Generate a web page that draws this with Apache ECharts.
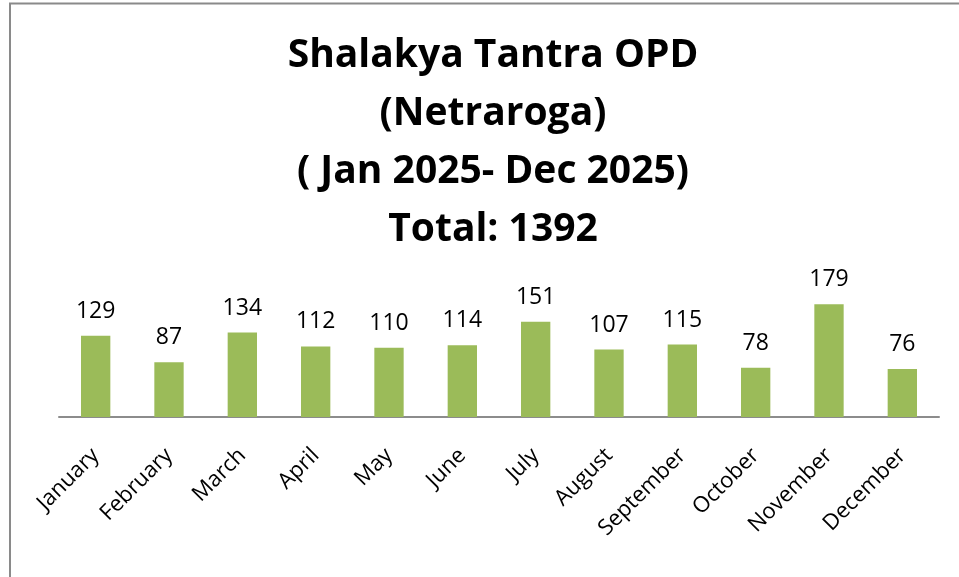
<!DOCTYPE html>
<html lang="en">
<head>
    <meta charset="UTF-8">
    <title>Shalakya Tantra OPD</title>
    <script src="https://cdn.jsdelivr.net/npm/echarts@6/dist/echarts.min.js"></script>
</head>
<body style="margin:0;">
    <div id="main" style="width:959px;height:577px;"></div>
</body>
<script>
// data
var months = ['January','February','March','April','May','June','July','August','September','October','November','December'];
var opdCounts = [129, 87, 134, 112, 110, 114, 151, 107, 115, 78, 179, 76];
var titleLines = ['Shalakya Tantra OPD', '(Netraroga)', '( Jan 2025- Dec 2025)', 'Total: 1392'];

var chart = echarts.init(document.getElementById('main'));
chart.setOption({
    backgroundColor: '#ffffff',
    animation: false,
    title: {
        text: titleLines.join('\n'),
        left: 488,
        top: 22,
        textAlign: 'center',
        textStyle: {
            fontFamily: 'Open Sans',
            fontWeight: 'bold',
            fontSize: 39,
            lineHeight: 58,
            color: '#000'
        }
    },
    // chart frame (cropped on right and bottom)
    graphic: [{
        type: 'polyline',
        shape: { points: [[10, 577], [10, 3.5], [959, 3.5]] },
        style: { stroke: '#8a8a8a', lineWidth: 2, fill: null }
    }],
    grid: {
        left: 59,
        right: 20,
        top: 291,
        bottom: 160
    },
    xAxis: {
        type: 'category',
        data: months,
        axisLine: { lineStyle: { color: '#8c8c8c', width: 2 } },
        axisTick: { show: false },
        axisLabel: {
            rotate: 45,
            margin: 35,
            interval: 0,
            color: '#000',
            fontFamily: 'Open Sans',
            fontSize: 22
        }
    },
    yAxis: {
        type: 'value',
        min: 0,
        max: 200,
        show: false,
        splitLine: { show: false }
    },
    series: [{
        type: 'bar',
        data: opdCounts,
        barWidth: '40%',
        itemStyle: { color: '#9bbb59' },
        label: {
            show: true,
            position: 'top',
            distance: 13,
            color: '#000',
            fontFamily: 'Open Sans',
            fontSize: 23
        }
    }]
});
</script>
</html>
